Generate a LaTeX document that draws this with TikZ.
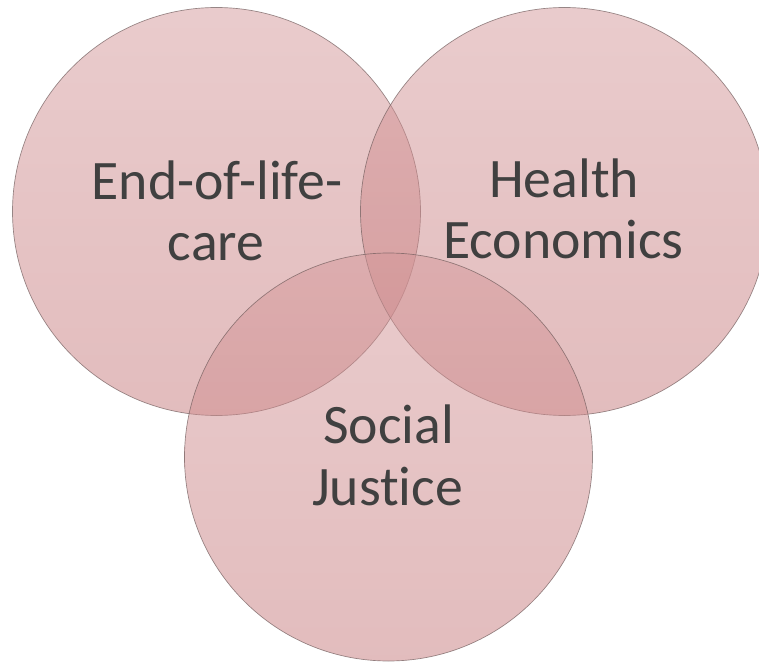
\documentclass[tikz,border=0pt]{standalone}
\usepackage{fontspec}
\setmainfont{Carlito}[Ligatures=NoCommon]
\definecolor{txt}{RGB}{64,64,64}
\definecolor{ctop}{RGB}{212,152,154}
\definecolor{cbot}{RGB}{198,122,124}
\definecolor{rim}{RGB}{110,90,90}
\begin{document}
\begin{tikzpicture}[x=0.75pt,y=-0.75pt,
  venn/.style={top color=ctop,bottom color=cbot,fill opacity=0.5,draw=rim,draw opacity=0.7,line width=0.5pt},
  lbl/.style={anchor=base,text=txt,inner sep=0pt,font=\fontsize{41.8}{46}\selectfont}]
\useasboundingbox (0,0) rectangle (759,663);
\begin{scope}
\clip (0,0) rectangle (759,663);
\coordinate (cL) at (216.5,211.5);
\coordinate (cR) at (564.5,211.5);
\coordinate (cB) at (388.5,457);
\path[venn] (cL) circle [radius=153pt];
\path[venn] (cR) circle [radius=153pt];
\path[venn] (cB) circle [radius=153pt];
\end{scope}
\node[lbl] (e1) at (217,199) {End-of-life-};
\node[lbl] (e2) at (216,260) {care};
\node[lbl] (h1) at (564,197) {Health};
\node[lbl] (h2) at (563.5,258) {Economics};
\node[lbl] (s1) at (388.5,443) {Social};
\node[lbl] (s2) at (387.5,505) {Justice};
\end{tikzpicture}
\end{document}
